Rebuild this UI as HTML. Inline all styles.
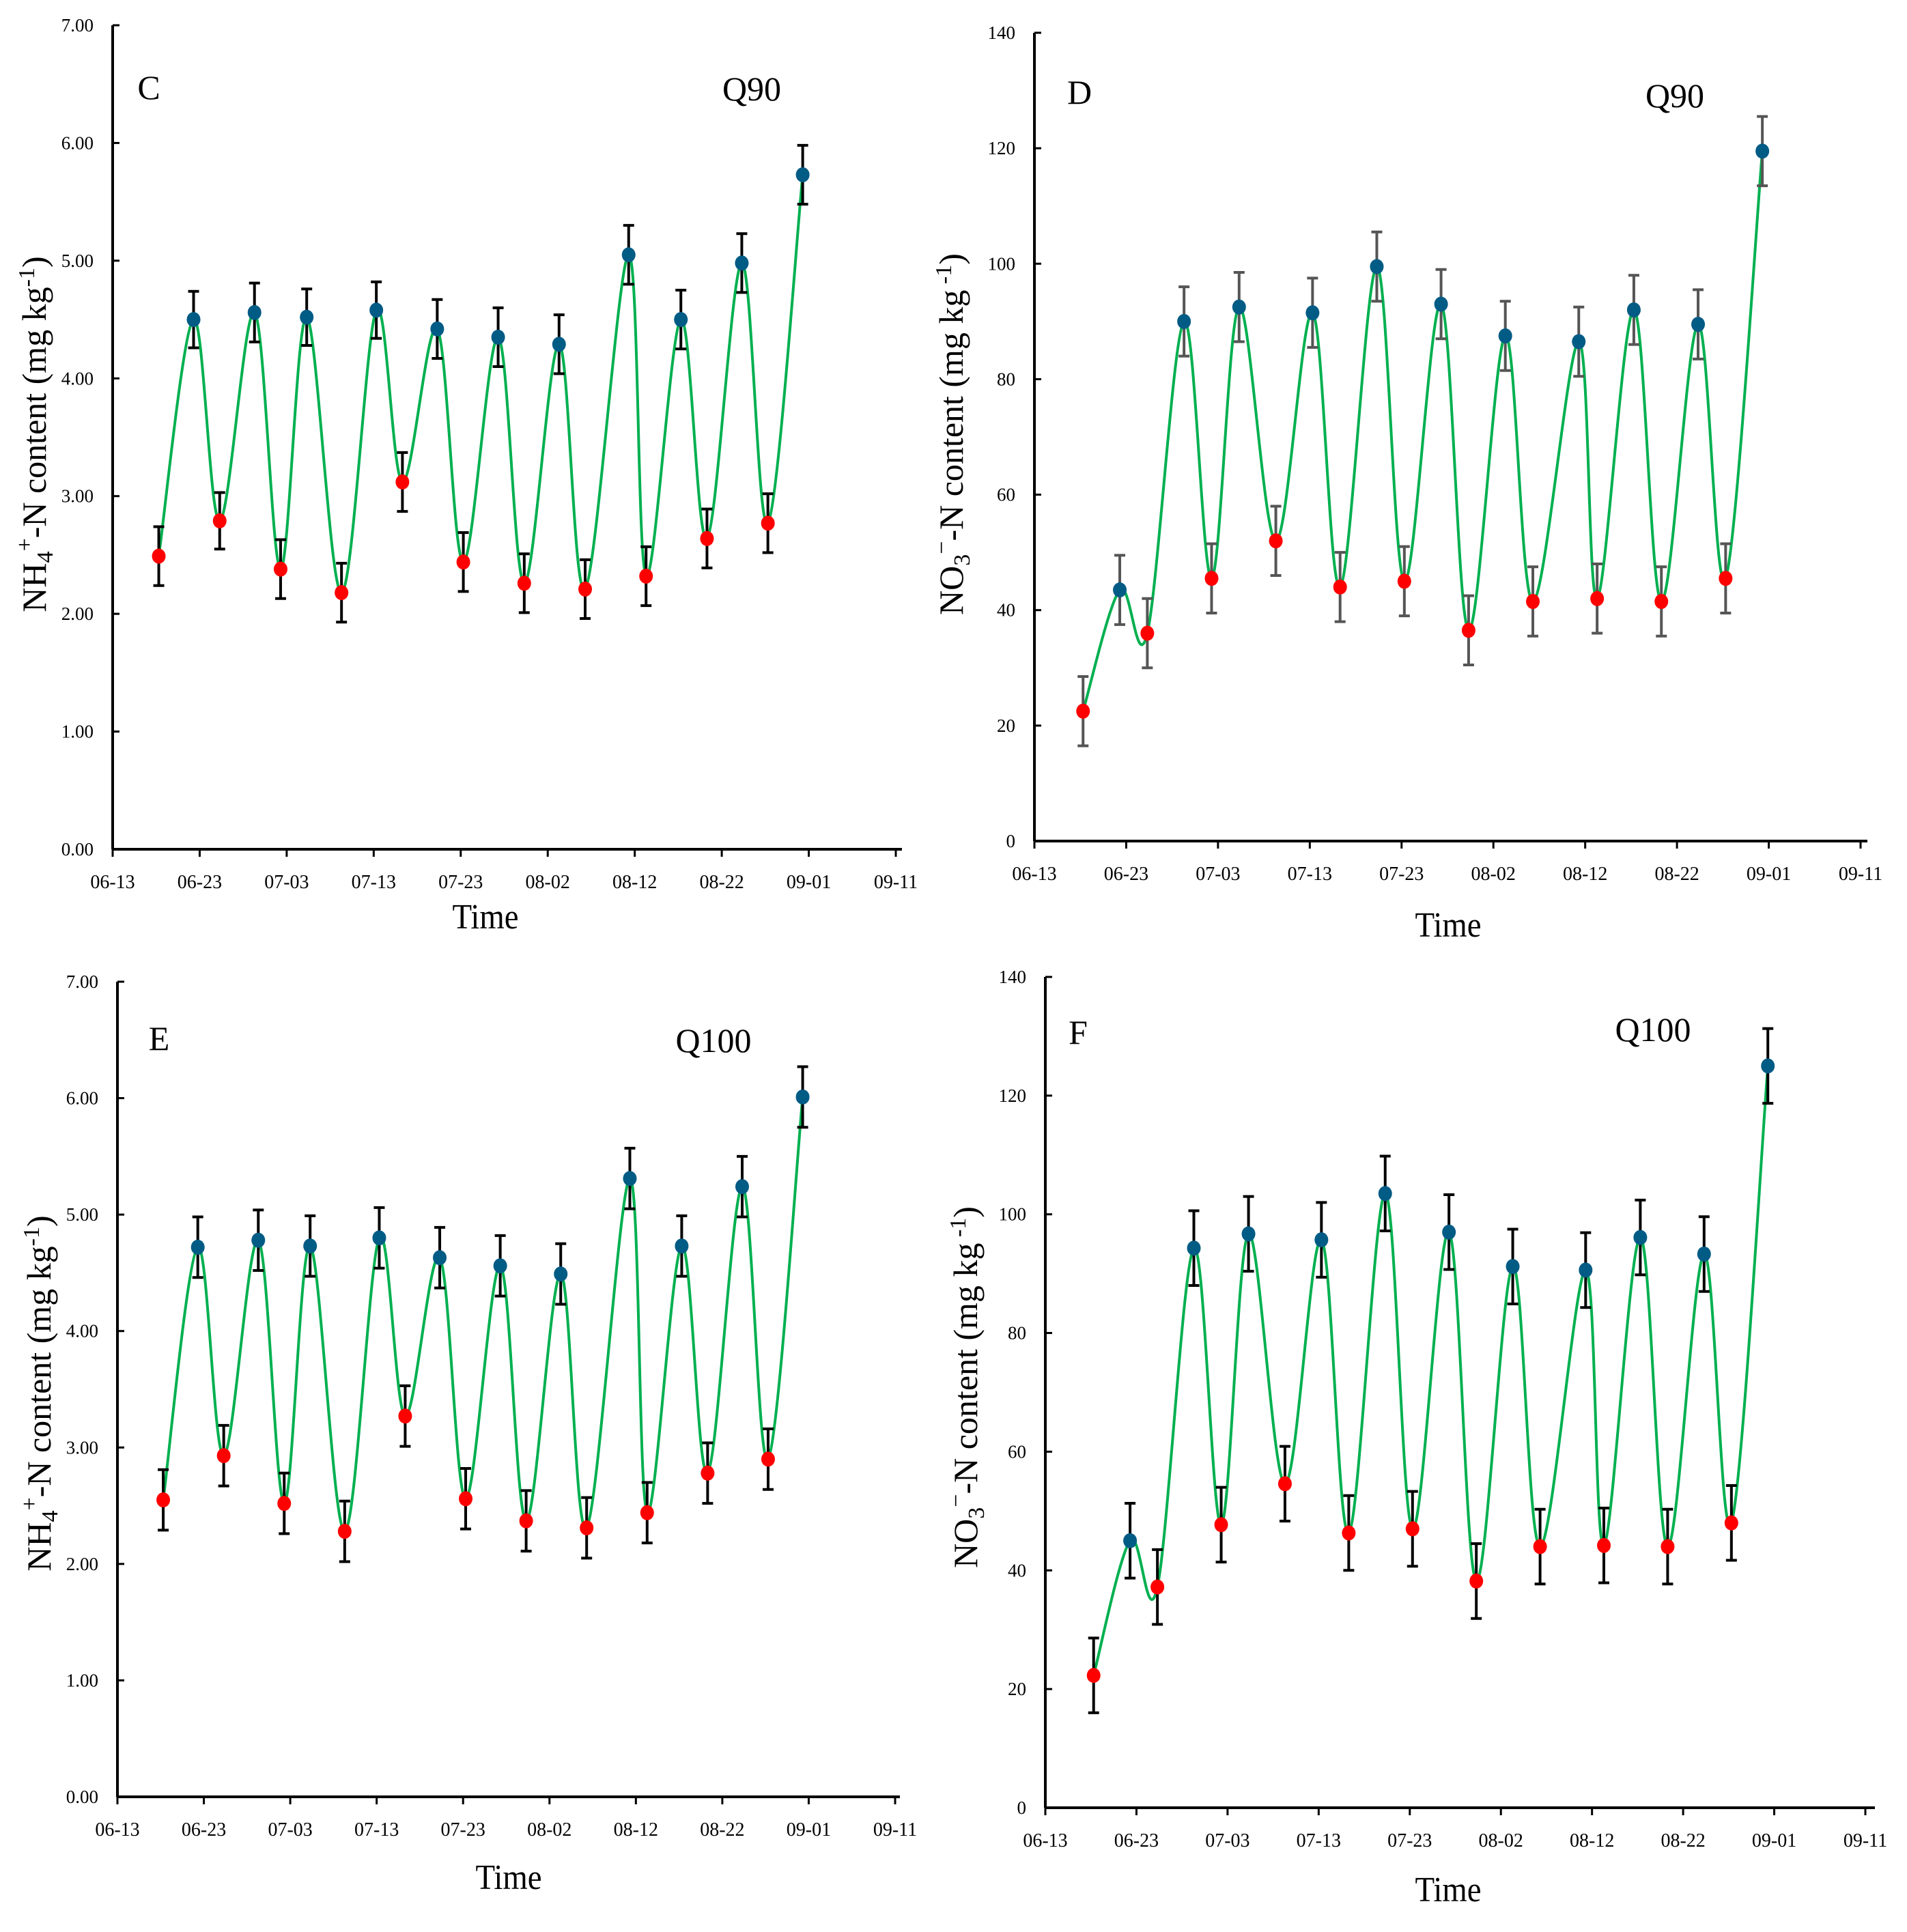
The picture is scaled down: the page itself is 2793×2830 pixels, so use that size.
<!DOCTYPE html>
<html><head><meta charset="utf-8">
<style>
html,body{margin:0;padding:0;background:#fff;}
svg{display:block;font-family:"Liberation Serif",serif;}
</style></head>
<body>
<svg id="chart" width="2793" height="2830" viewBox="0 0 2793 2830" xmlns="http://www.w3.org/2000/svg">
<rect width="2793" height="2830" fill="#fff"/>
</svg>
<script>
const days = [5.3,9.3,12.3,16.3,19.3,22.3,26.3,30.3,33.3,37.3,40.3,44.3,47.3,51.3,54.3,59.3,61.3,65.3,68.3,72.3,75.3,79.3];
const pointTypes = ["r","b","r","b","r","b","r","b","r","b","r","b","r","b","r","b","r","b","r","b","r","b"];
const xTickLabels = ["06-13","06-23","07-03","07-13","07-23","08-02","08-12","08-22","09-01","09-11"];
const valuesC = [2.49,4.50,2.79,4.56,2.38,4.52,2.18,4.58,3.12,4.42,2.44,4.35,2.26,4.29,2.21,5.05,2.32,4.50,2.64,4.98,2.77,5.73];
const errorsC = [0.25,0.24,0.24,0.25,0.25,0.24,0.25,0.24,0.25,0.25,0.25,0.25,0.25,0.25,0.25,0.25,0.25,0.25,0.25,0.25,0.25,0.25];
const valuesD = [22.5,43.5,36.0,90.0,45.5,92.5,52.0,91.5,44.0,99.5,45.0,93.0,36.5,87.5,41.5,86.5,42.0,92.0,41.5,89.5,45.5,119.5];
const errorsD = [6,6,6,6,6,6,6,6,6,6,6,6,6,6,6,6,6,6,6,6,6,6];
const valuesE = [2.55,4.72,2.93,4.78,2.52,4.73,2.28,4.80,3.27,4.63,2.56,4.56,2.37,4.49,2.31,5.31,2.44,4.73,2.78,5.24,2.90,6.01];
const errorsE = [0.26,0.26,0.26,0.26,0.26,0.26,0.26,0.26,0.26,0.26,0.26,0.26,0.26,0.26,0.26,0.26,0.26,0.26,0.26,0.26,0.26,0.26];
const valuesF = [22.3,45.0,37.2,94.3,47.7,96.7,54.6,95.7,46.3,103.5,47.0,97.0,38.2,91.2,44.0,90.6,44.2,96.1,44.0,93.3,48.0,125.0];
const errorsF = [6.3,6.3,6.3,6.3,6.3,6.3,6.3,6.3,6.3,6.3,6.3,6.3,6.3,6.3,6.3,6.3,6.3,6.3,6.3,6.3,6.3,6.3];
const yTicksNH = [0,1,2,3,4,5,6,7];
const yTicksNO = [0,20,40,60,80,100,120,140];

const NS = "http://www.w3.org/2000/svg";
const svg = document.getElementById("chart");
function mk(tag, attrs, parent){
  const e = document.createElementNS(NS, tag);
  for (const k in attrs) e.setAttribute(k, attrs[k]);
  (parent||svg).appendChild(e);
  return e;
}

function panel(cfg){
  const g = mk("g", {});
  
  
  const xs = d => cfg.xL + (cfg.xR - cfg.xL) * d / 90;
  const ys = v => cfg.yB - (cfg.yB - cfg.yT) * v / cfg.max;
  const ya = mk("line", {x1:cfg.xL, y1:cfg.yT, x2:cfg.xL, y2:cfg.yB, stroke:"#000","stroke-width":4}, g);
  
  
  const xa = mk("line", {x1:cfg.xL, y1:cfg.yB, x2:cfg.xEnd, y2:cfg.yB, stroke:"#000","stroke-width":4}, g);
  
  
  cfg.yticks.forEach(t => {
    const y = ys(t);
    mk("line", {x1:cfg.xL, y1:y, x2:cfg.xL+10, y2:y, stroke:"#000","stroke-width":3}, g);
    const tx = mk("text", {x:cfg.xL-28, y:y+9, "text-anchor":"end","font-size":27}, g);
    tx.textContent = cfg.dec ? t.toFixed(2) : String(t);
    
    
  });
  xTickLabels.forEach((lab, i) => {
    const x = xs(i*10);
    mk("line", {x1:x, y1:cfg.yB, x2:x, y2:cfg.yB+11, stroke:"#000","stroke-width":3}, g);
    const tx = mk("text", {x:x, y:cfg.yB+57, "text-anchor":"middle","font-size":28}, g);
    tx.textContent = lab;
    
    
  });
  const P = days.map((d,i) => [xs(d), ys(cfg.vals[i])]);
  let dstr = "M" + P[0][0] + "," + P[0][1];
  for (let i=0;i<P.length-1;i++){
    const p0 = P[i-1]||P[i], p1=P[i], p2=P[i+1], p3=P[i+2]||P[i+1];
    const c1 = [p1[0]+(p2[0]-p0[0])/6, p1[1]+(p2[1]-p0[1])/6];
    const c2 = [p2[0]-(p3[0]-p1[0])/6, p2[1]-(p3[1]-p1[1])/6];
    dstr += " C"+c1[0]+","+c1[1]+" "+c2[0]+","+c2[1]+" "+p2[0]+","+p2[1];
  }
  const ln = mk("path", {d:dstr, fill:"none", stroke:"#00b050","stroke-width":4}, g);
  
  
  days.forEach((d,i) => {
    const x = xs(d), v = cfg.vals[i], e = cfg.errs[i];
    const y1 = ys(v+e), y2 = ys(v-e);
    const eb = mk("path", {d:`M${x},${y1}V${y2}M${x-8},${y1}H${x+8}M${x-8},${y2}H${x+8}`, stroke:cfg.errColor,"stroke-width":4, fill:"none"}, g);
    
    
  });
  days.forEach((d,i) => {
    const c = mk("ellipse", {cx:xs(d), cy:ys(cfg.vals[i]), rx:10, ry:11, fill: pointTypes[i]==="r" ? "#ff0000" : "#005b85"}, g);
    
    
  });
  const pl = mk("text", {x:cfg.lab[0], y:cfg.lab[1]+16, "text-anchor":"middle","font-size":50}, g);
  pl.textContent = cfg.id;
  
  
  const ql = mk("text", {x:cfg.q[0], y:cfg.q[1]+16, "text-anchor":"middle","font-size":50}, g);
  ql.textContent = cfg.qt;
  
  
  const xt = mk("text", {x:cfg.time[0], y:cfg.time[1]+17, "text-anchor":"middle","font-size":52, transform:`translate(${cfg.time[0]},0) scale(0.9,1) translate(${-cfg.time[0]},0)`}, g);
  xt.textContent = "Time";
  
  
  const yt = mk("text", {x:0, y:0, "text-anchor":"middle","font-size":50, transform:`translate(${cfg.yt[0]+17},${cfg.yt[1]}) rotate(-90)`}, g);
  
  
  if (cfg.dec){
    yt.innerHTML = 'NH<tspan font-size="34" dy="10">4</tspan><tspan font-size="34" dy="-30">+</tspan><tspan dy="20">-N content (mg kg</tspan><tspan font-size="34" dy="-17">-1</tspan><tspan dy="17">)</tspan>';
  } else {
    yt.innerHTML = 'NO<tspan font-size="34" dy="10">3</tspan><tspan font-size="34" dy="-30">−</tspan><tspan dy="20">-N content (mg kg</tspan><tspan font-size="34" dy="-17"> -1</tspan><tspan dy="17">)</tspan>';
  }
}

panel({id:"C", qt:"Q90", xL:165, xR:1312, xEnd:1321, yT:37, yB:1244, max:7, dec:true, yticks:yTicksNH,
  vals:valuesC, errs:errorsC, errColor:"#000", lab:[218,129], q:[1101,131], time:[711,1343], yt:[50,636]});
panel({id:"D", qt:"Q90", xL:1515, xR:2725, xEnd:2735, yT:48, yB:1232, max:140, dec:false, yticks:yTicksNO,
  vals:valuesD, errs:errorsD, errColor:"#555", lab:[1581,136], q:[2453,141], time:[2121,1355], yt:[1393,636]});
panel({id:"E", qt:"Q100", xL:172, xR:1311, xEnd:1318, yT:1438, yB:2632, max:7, dec:true, yticks:yTicksNH,
  vals:valuesE, errs:errorsE, errColor:"#000", lab:[233,1522], q:[1045,1525], time:[745,2750], yt:[57,2041]});
panel({id:"F", qt:"Q100", xL:1531, xR:2732, xEnd:2746, yT:1431, yB:2648, max:140, dec:false, yticks:yTicksNO,
  vals:valuesF, errs:errorsF, errColor:"#000", lab:[1579,1513], q:[2421,1509], time:[2121,2768], yt:[1414,2032]});
</script>
</body></html>
